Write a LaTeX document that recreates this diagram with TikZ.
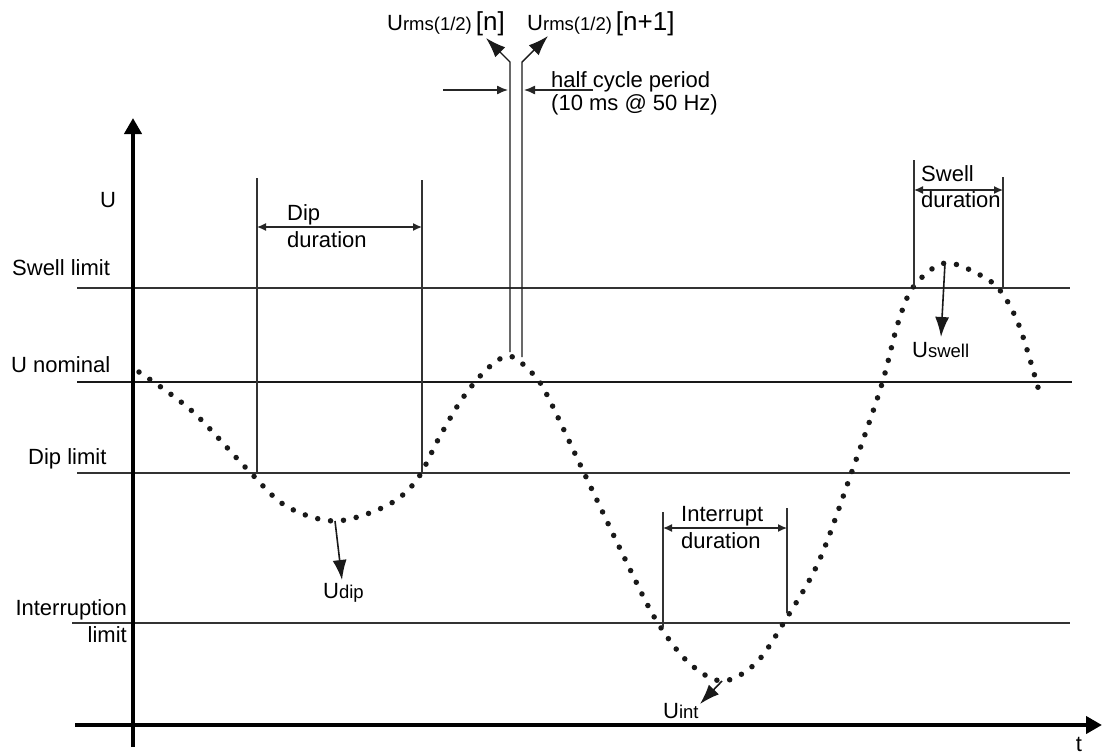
\documentclass[tikz,border=0pt]{standalone}
\usepackage{fontspec}
\setmainfont{Liberation Sans}
\usetikzlibrary{arrows.meta}
\newcommand\subtx[1]{{\fontsize{18.5}{20}\selectfont #1}}
\newcommand\brtx[1]{{\fontsize{26}{28}\selectfont #1}}
\tikzset{
  lbl/.style={inner sep=0pt, font=\fontsize{22}{24}\selectfont, text=black},
  thinln/.style={line width=1.3pt, draw=black!80},
  nomln/.style={line width=2.8pt, draw=black!90},
  axisln/.style={line width=4pt, draw=black, -{Triangle[length=16pt,width=17pt]}},
  dimarr/.style={line width=1.3pt, draw=black!85, {Latex[length=9pt,width=8pt]}-{Latex[length=9pt,width=8pt]}},
  smallarr/.style={line width=1.3pt, draw=black!85, -{Latex[length=11pt,width=9pt]}},
  bigarr/.style={line width=1.6pt, draw=black!90, -{Latex[length=20pt,width=14pt]}},
  dots/.style={line width=5.5pt, line cap=round, dash pattern=on 0pt off 13pt, draw=black!90}
}
\begin{document}
\begin{tikzpicture}[x=1pt,y=-1pt]
\useasboundingbox (0,0) rectangle (1102,755);

% limit lines
\coordinate (swA) at (77,288);  \coordinate (swB) at (1070,288);
\coordinate (noA) at (77,382);  \coordinate (noB) at (1072,382);
\coordinate (diA) at (77,473);  \coordinate (diB) at (1070,473);
\coordinate (inA) at (72,623);  \coordinate (inB) at (1070,623);
\draw[thinln] (swA) -- (swB);
\draw[nomln] (noA) -- (noB);
\draw[thinln] (diA) -- (diB);
\draw[thinln] (inA) -- (inB);

% axes
\coordinate (yB) at (133,747); \coordinate (yT) at (133,118);
\coordinate (xL) at (75,725);  \coordinate (xR) at (1102,725);
\draw[axisln] (yB) -- (yT);
\draw[axisln] (xL) -- (xR);

% axis / limit labels
\node[lbl, anchor=base west] (uL) at (100,207) {U};
\node[lbl, anchor=base west] (swL) at (12,275) {Swell limit};
\node[lbl, anchor=base west] (noL) at (11,372) {U nominal};
\node[lbl, anchor=base west] (diL) at (28,464) {Dip limit};
\node[lbl, anchor=base east] (inL) at (127,615) {Interruption};
\node[lbl, anchor=base east] (inL2) at (127,642) {limit};
\node[lbl, anchor=base] (tL) at (1079,751) {t};

% dotted waveform
\draw[dots] plot[smooth, tension=0.55] coordinates {
 (139,372) (192,411) (247,469) (286,506) (335,521) (386,506) (416,481)
 (439,438) (462,399) (487,369) (509,356) (530,371) (546,393)
 (586,477) (626,561) (656,620) (688,662) (722,681) (756,663) (786,619)
 (819,561) (851,474) (881,387) (898,323) (914,286) (945,263) (982,276)
 (1002,293) (1020,328) (1039,391)};

% dip duration
\coordinate (d1t) at (257,178); \coordinate (d1b) at (257,473);
\coordinate (d2t) at (422,180); \coordinate (d2b) at (422,473);
\draw[thinln] (d1t) -- (d1b);
\draw[thinln] (d2t) -- (d2b);
\coordinate (da1) at (257,227); \coordinate (da2) at (422,227);
\draw[dimarr] (da1) -- (da2);
\node[lbl, anchor=base west] (dipT) at (287,220) {Dip};
\node[lbl, anchor=base west] (dipD) at (287,247) {duration};

% swell duration
\coordinate (s1t) at (914,160); \coordinate (s1b) at (914,287);
\coordinate (s2t) at (1003,177); \coordinate (s2b) at (1003,289);
\draw[thinln] (s1t) -- (s1b);
\draw[thinln] (s2t) -- (s2b);
\coordinate (sa1) at (914,190); \coordinate (sa2) at (1003,190);
\draw[dimarr] (sa1) -- (sa2);
\node[lbl, anchor=base west] (swT) at (921,181) {Swell};
\node[lbl, anchor=base west] (swD) at (921,207) {duration};

% interrupt duration
\coordinate (i1t) at (663,512); \coordinate (i1b) at (663,627);
\coordinate (i2t) at (787,508); \coordinate (i2b) at (787,613);
\draw[thinln] (i1t) -- (i1b);
\draw[thinln] (i2t) -- (i2b);
\coordinate (ia1) at (663,528); \coordinate (ia2) at (787,528);
\draw[dimarr] (ia1) -- (ia2);
\node[lbl, anchor=base west] (intT) at (681,521) {Interrupt};
\node[lbl, anchor=base west] (intD) at (681,548) {duration};

% half cycle markers
\coordinate (h1b) at (510,352); \coordinate (h1k) at (510,62); \coordinate (h1e) at (486,38);
\coordinate (h2b) at (522,357); \coordinate (h2k) at (522,62); \coordinate (h2e) at (548,36);
\draw[bigarr, line width=1.4pt] (h1b) -- (h1k) -- (h1e);
\draw[bigarr, line width=1.4pt] (h2b) -- (h2k) -- (h2e);
\coordinate (ha1) at (443,90); \coordinate (ha2) at (508,90);
\coordinate (hb1) at (593,90); \coordinate (hb2) at (524,90);
\draw[smallarr] (ha1) -- (ha2);
\draw[smallarr] (hb1) -- (hb2);
\node[lbl, anchor=base west] (hc1) at (551,87) {half cycle period};
\node[lbl, anchor=base west] (hc2) at (551,110) {(10 ms @ 50 Hz)};
\node[lbl, anchor=base east] (rmsn) at (505,30) {U\subtx{rms(1/2)}\hspace{4pt}\brtx{[n]}};
\node[lbl, anchor=base west] (rmsn1) at (527,30) {U\subtx{rms(1/2)}\hspace{4pt}\brtx{[n+1]}};

% value arrows
\coordinate (udA) at (335,521); \coordinate (udB) at (342,580);
\coordinate (usA) at (945,263); \coordinate (usB) at (941,337);
\coordinate (uiA) at (722,681); \coordinate (uiB) at (700,704);
\draw[bigarr] (udA) -- (udB);
\draw[bigarr] (usA) -- (usB);
\draw[bigarr] (uiA) -- (uiB);
\node[lbl, anchor=base west] (udL) at (323,598) {U\subtx{dip}};
\node[lbl, anchor=base west] (usL) at (912,357) {U\subtx{swell}};
\node[lbl, anchor=base west] (uiL) at (663,718) {U\subtx{int}};
\end{tikzpicture}
\end{document}
